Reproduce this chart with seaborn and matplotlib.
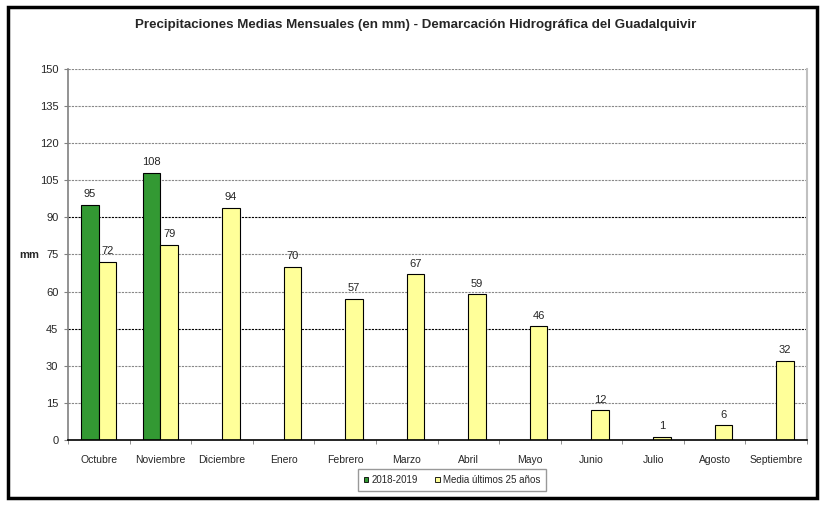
import pandas as pd
import matplotlib
matplotlib.use("Agg")
import matplotlib.pyplot as plt
import seaborn as sns
from matplotlib.patches import Rectangle, Patch

# Datos
meses = ["Octubre", "Noviembre", "Diciembre", "Enero", "Febrero", "Marzo",
         "Abril", "Mayo", "Junio", "Julio", "Agosto", "Septiembre"]
serie_2018 = [95, 108, None, None, None, None, None, None, None, None, None, None]
serie_media = [72, 79, 94, 70, 57, 67, 59, 46, 12, 1.4, 6, 32]
nombres = ["2018-2019", "Media últimos 25 años"]
colores = ["#339933", "#FFFF99"]

df = pd.DataFrame({
    "Mes": meses * 2,
    "Serie": [nombres[0]] * 12 + [nombres[1]] * 12,
    "mm": serie_2018 + serie_media,
})

sns.set_style("white")
plt.rcParams['font.family'] = ['Liberation Sans', 'DejaVu Sans']

fig = plt.figure(figsize=(8.27, 5.07), dpi=100)
ax = fig.add_axes([68/827, 67/507, 739/827, 371/507])

sns.barplot(data=df, x="Mes", y="mm", hue="Serie", order=meses, hue_order=nombres,
            palette=colores, saturation=1, width=0.57, edgecolor="black", linewidth=0.8,
            legend=False, ax=ax)

ax.set_ylim(0, 150)
ax.set_xlim(-0.5, 11.5)
ax.set_yticks(range(0, 151, 15))
ax.set_yticklabels([str(v) for v in range(0, 151, 15)], fontsize=8)
ax.set_xticks(range(12))
ax.set_xticklabels(meses, fontsize=7.5)
ax.tick_params(axis="x", length=0, pad=11)
ax.tick_params(axis="y", length=3, color="#808080", direction="out", left=True, pad=4)
ax.set_xticks([i + 0.5 for i in range(-1, 12)], minor=True)
ax.tick_params(axis="x", which="minor", length=3, color="#808080", direction="out", bottom=True)

for v in range(15, 151, 15):
    c = "black" if v in (45, 90) else "#888888"
    ax.axhline(v, color=c, linestyle=(0, (2, 1)), linewidth=0.8, zorder=0)

ax.spines["top"].set_visible(False)
ax.spines["left"].set_color("#808080")
ax.spines["right"].set_color("#c0c0c0")
ax.spines["bottom"].set_color("black")
ax.spines["left"].set_linewidth(1.2)
ax.spines["right"].set_linewidth(1.5)
ax.spines["bottom"].set_linewidth(1.2)

for cont in ax.containers:
    etiquetas = ["" if pd.isna(v) else f"{v:.0f}" for v in cont.datavalues]
    ax.bar_label(cont, labels=etiquetas, padding=4, fontsize=8)

ax.set_xlabel("")
ax.set_ylabel("")
ax.text(-0.052, 0.5, "mm", transform=ax.transAxes, fontsize=8, fontweight="bold",
        ha="center", va="center")

fig.text(0.503, 0.951, "Precipitaciones Medias Mensuales (en mm) - Demarcación Hidrográfica del Guadalquivir",
         ha="center", va="center", fontsize=9.6, fontweight="bold")

handles = [Patch(facecolor=c, edgecolor="black", linewidth=0.6) for c in colores]
leg = fig.legend(handles, nombres, loc="center", bbox_to_anchor=(452/827, 1 - 480/507),
                 ncol=2, fontsize=7, frameon=True, fancybox=False, handlelength=0.5,
                 handleheight=0.5, handletextpad=0.3, columnspacing=1.8, borderpad=0.6)
leg.get_frame().set_edgecolor("#808080")
leg.get_frame().set_linewidth(1.0)

fig.patches.append(Rectangle((8/827, 9/507), 809/827, 491/507, transform=fig.transFigure,
                             fill=False, edgecolor="black", linewidth=2.5))

fig.savefig("out.png", dpi=100)
